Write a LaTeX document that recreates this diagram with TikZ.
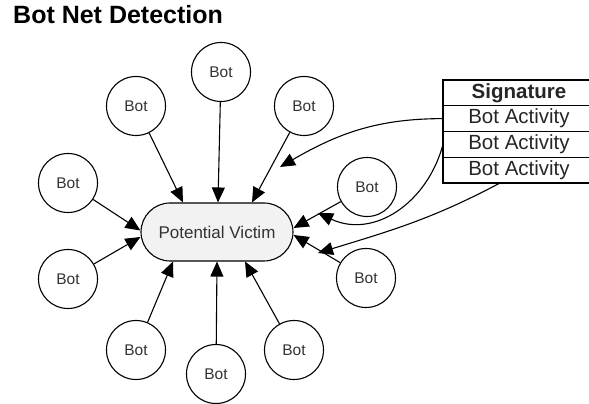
\documentclass[tikz,border=0pt]{standalone}
\usepackage{fontspec}
\setmainfont{Liberation Sans}
\usetikzlibrary{arrows.meta,positioning}

\begin{document}
\begin{tikzpicture}[x=1pt,y=1pt,
    bot/.style={draw,circle,line width=1.1pt,minimum size=59pt,inner sep=0pt,
      text=black!80,font=\fontsize{15.5}{18}\selectfont},
    victim/.style={draw,line width=1.1pt,fill=gray!10,rounded corners=29pt,
      minimum width=152pt,minimum height=58pt,text=black!80,
      font=\fontsize{17}{20}\selectfont},
    row/.style={draw,line width=1.1pt,minimum width=152pt,minimum height=25.75pt,
      inner sep=0pt,outer sep=0pt,text=black!85,font=\fontsize{20.5}{24}\selectfont},
    link/.style={line width=1.1pt,-{Triangle[length=15pt,width=13pt]}}]
  \clip (0,0) rectangle (589,404);

  \node[anchor=base west,inner sep=0pt,font=\fontsize{25}{30}\selectfont\bfseries] (title) at (13,380) {Bot Net Detection};

  \node[victim] (victim) at (217,172) {Potential Victim};

  % the bots round the victim
  \foreach \n/\x/\y in {top/221/332, ul/136/298, ur/304/298, l1/68/221, l2/68/125,
                        bl/136/54, b/216/30, br/294/54, r1/367/217, r2/366/126}
    \node[bot] (\n) at (\x,\y) {Bot};

  \foreach \n/\a/\dx/\dy in {top/north/1/0, ul/north/-34/0, ur/north/35/0,
                             l1/west/0/1.5, l2/west/0/-5, r1/east/0/4, r2/east/0/-3,
                             bl/south/-44/0, b/south/0/0, br/south/28/0}
    \draw[link] (\n) -- ([shift={(\dx,\dy)}]victim.\a);

  % signature table
  \node[row,anchor=north west,font=\fontsize{20.5}{24}\selectfont\bfseries] (sig) at (443,324) {Signature};
  \node[row,below=0pt of sig] (act1) {Bot Activity};
  \node[row,below=0pt of act1] (act2) {Bot Activity};
  \node[row,below=0pt of act2] (act3) {Bot Activity};

  \coordinate (hit1) at (280,237);
  \coordinate (hit2) at (318,191);
  \coordinate (hit3) at (318,151);
  \draw[link] (act1.west) to[out=180,in=30] (hit1);
  \draw[link] (act2.west) to[out=-105,in=-25,looseness=1.1] (hit2);
  \draw[link] ([xshift=-19pt]act3.south) to[out=208,in=17] (hit3);
\end{tikzpicture}
\end{document}
